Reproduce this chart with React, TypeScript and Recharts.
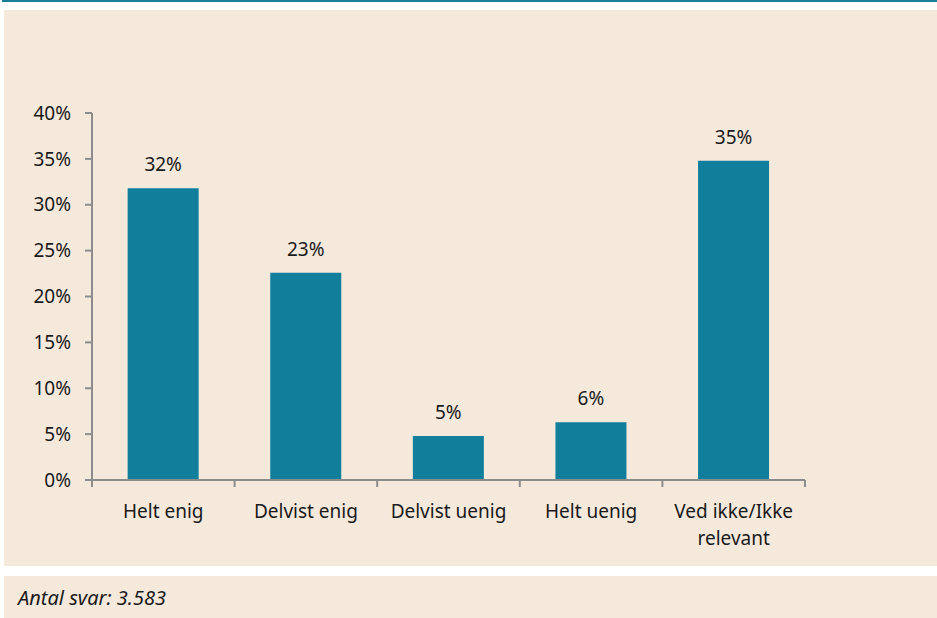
import React from 'react'
import { BarChart, Bar, XAxis, YAxis, LabelList } from 'recharts'

const categories = ['Helt enig', 'Delvist enig', 'Delvist uenig', 'Helt uenig', 'Ved ikke/Ikke relevant']
const shares = [31.8, 22.6, 4.8, 6.3, 34.8]
const yTicks = [0, 5, 10, 15, 20, 25, 30, 35, 40]
const tickLines: Record<string, string[]> = {
  'Ved ikke/Ikke relevant': ['Ved ikke/Ikke', 'relevant'],
}

const data = categories.map((name, i) => ({ name, value: shares[i] }))

const FONT = '"Noto Sans", "Open Sans", sans-serif'
const AXIS = '#8c8c8c'
const BAR = '#117e9c'
const BG = '#f5e9dc'
const INK = '#1a1a1a'

const CHART_W = 933
const CHART_H = 556
const X_H = 30
const M = { top: 103, right: 132, bottom: 86 - X_H, left: 20 }
const Y_W = 68
const BAND = (CHART_W - M.left - M.right - Y_W) / categories.length

function CategoryTick(props: any) {
  const { x, y, payload, index } = props
  const lines = tickLines[payload.value] ?? [payload.value]
  const last = index === categories.length - 1
  return (
    <g>
      <line x1={x - BAND / 2} x2={x - BAND / 2} y1={y} y2={y + 7} stroke={AXIS} strokeWidth={2} />
      {last && <line x1={x + BAND / 2} x2={x + BAND / 2} y1={y} y2={y + 7} stroke={AXIS} strokeWidth={2} />}
      <text x={x} y={y + 38} textAnchor="middle" fill={INK} fontSize={19} fontFamily={FONT}>
        {lines.map((l: string, i: number) => (
          <tspan key={i} x={x} dy={i === 0 ? 0 : 27}>{l}</tspan>
        ))}
      </text>
    </g>
  )
}

export default function App() {
  return (
    <div style={{ position: 'fixed', left: 0, top: 0, width: 937, height: 618, background: '#fff', fontFamily: FONT }}>
      <div style={{ position: 'absolute', left: 2, top: 0, width: 935, height: 2, background: '#1a7f96' }} />
      <div style={{ position: 'absolute', left: 4, top: 10, width: CHART_W, height: CHART_H, background: BG }}>
        <BarChart width={CHART_W} height={CHART_H} data={data} margin={M} barCategoryGap="25%">
          <XAxis
            dataKey="name"
            height={X_H}
            axisLine={{ stroke: AXIS, strokeWidth: 2 }}
            tickLine={false}
            tickSize={0}
            tickMargin={0}
            tick={<CategoryTick />}
            interval={0}
          />
          <YAxis
            width={Y_W}
            domain={[0, 40]}
            ticks={yTicks}
            tickFormatter={(v) => `${v}%`}
            axisLine={{ stroke: AXIS, strokeWidth: 2 }}
            tickLine={{ stroke: AXIS, strokeWidth: 2 }}
            tickSize={7}
            tickMargin={14}
            tick={{ fill: INK, fontSize: 19, fontFamily: FONT }}
          />
          <Bar dataKey="value" fill={BAR} isAnimationActive={false}>
            <LabelList
              dataKey="value"
              position="top"
              offset={17}
              formatter={(v: any) => `${Math.round(Number(v))}%`}
              style={{ fill: INK, fontSize: 19, fontFamily: FONT }}
            />
          </Bar>
        </BarChart>
      </div>
      <div style={{ position: 'absolute', left: 4, top: 576, width: CHART_W, height: 42, background: BG }}>
        <div style={{ position: 'absolute', left: 14, top: 8, fontSize: 20, fontStyle: 'italic', color: INK }}>
          Antal svar: 3.583
        </div>
      </div>
    </div>
  )
}
